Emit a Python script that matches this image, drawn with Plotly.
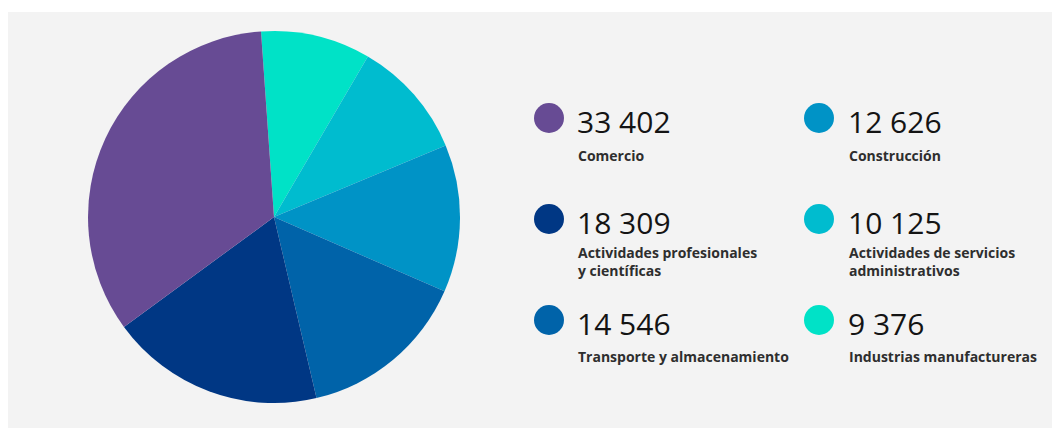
import plotly.graph_objects as go

# ---- data ----
categories = [
    "Industrias manufactureras",
    "Actividades de servicios administrativos",
    "Construcción",
    "Transporte y almacenamiento",
    "Actividades profesionales y científicas",
    "Comercio",
]
values = [9376, 10125, 12626, 14546, 18309, 33402]
colors = ["#00e2c7", "#00bccf", "#0093c6", "#0063a9", "#003784", "#674b94"]

# legend wording (with line breaks as in the picture)
legend_labels = {
    "Industrias manufactureras": "Industrias manufactureras",
    "Actividades de servicios administrativos": "Actividades de servicios<br>administrativos",
    "Construcción": "Construcción",
    "Transporte y almacenamiento": "Transporte y almacenamiento",
    "Actividades profesionales y científicas": "Actividades profesionales<br>y científicas",
    "Comercio": "Comercio",
}
# legend layout: (column, row) for each category
legend_slots = {
    "Comercio": (0, 0),
    "Actividades profesionales y científicas": (0, 1),
    "Transporte y almacenamiento": (0, 2),
    "Construcción": (1, 0),
    "Actividades de servicios administrativos": (1, 1),
    "Industrias manufactureras": (1, 2),
}

# the page body has an 8px margin, so the figure starts at (8, 8)
OFF = 8
W, H = 1060 - OFF, 428 - OFF
col_circle_x = [549 - OFF, 819 - OFF]
col_text_x = [575 - OFF, 846 - OFF]
row_circle_y = [118 - OFF, 219 - OFF, 320 - OFF]
row_num_y = [121 - OFF, 222 - OFF, 323 - OFF]
row_label_top = [144 - OFF, 241 - OFF, 345 - OFF]

fig = go.Figure()

# pie
cx, cy, r = 274 - OFF, 217 - OFF, 186
fig.add_trace(go.Pie(
    labels=categories,
    values=values,
    marker=dict(colors=colors, line=dict(width=0)),
    sort=False,
    direction="clockwise",
    rotation=-4,
    textinfo="none",
    hoverinfo="label+value",
    showlegend=False,
    domain=dict(x=[(cx - r) / W, (cx + r) / W], y=[(H - cy - r) / H, (H - cy + r) / H]),
))

# legend dots
dot_x, dot_y, dot_c = [], [], []
for cat, col in zip(categories, colors):
    c, rw = legend_slots[cat]
    dot_x.append(col_circle_x[c])
    dot_y.append(row_circle_y[rw])
    dot_c.append(col)
fig.add_trace(go.Scatter(
    x=dot_x, y=dot_y, mode="markers",
    marker=dict(size=30, color=dot_c, line=dict(width=0)),
    hoverinfo="skip", showlegend=False,
))

annotations = []
for cat, v in zip(categories, values):
    c, rw = legend_slots[cat]
    annotations.append(dict(
        x=col_text_x[c], y=row_num_y[rw], xref="x", yref="y",
        text=f"{v:,}".replace(",", " "), showarrow=False,
        xanchor="left", yanchor="middle",
        font=dict(family="Open Sans", size=30, color="#141414"),
    ))
    annotations.append(dict(
        x=col_text_x[c] + 1, y=row_label_top[rw], xref="x", yref="y",
        text=legend_labels[cat], showarrow=False,
        xanchor="left", yanchor="top", align="left",
        font=dict(family="Open Sans", size=14, color="#2e2e2e", weight=700),
    ))

fig.update_layout(
    width=W, height=H,
    margin=dict(l=0, r=0, t=0, b=0),
    paper_bgcolor="#ffffff",
    plot_bgcolor="rgba(0,0,0,0)",
    xaxis=dict(range=[0, W], visible=False, fixedrange=True, domain=[0, 1]),
    yaxis=dict(range=[H, 0], visible=False, fixedrange=True, domain=[0, 1]),
    shapes=[dict(type="rect", xref="x", yref="y", x0=0, x1=W, y0=12 - OFF, y1=H,
                 fillcolor="#f3f3f3", line=dict(width=0), layer="below")],
    annotations=annotations,
)

fig.write_html("out.html")
